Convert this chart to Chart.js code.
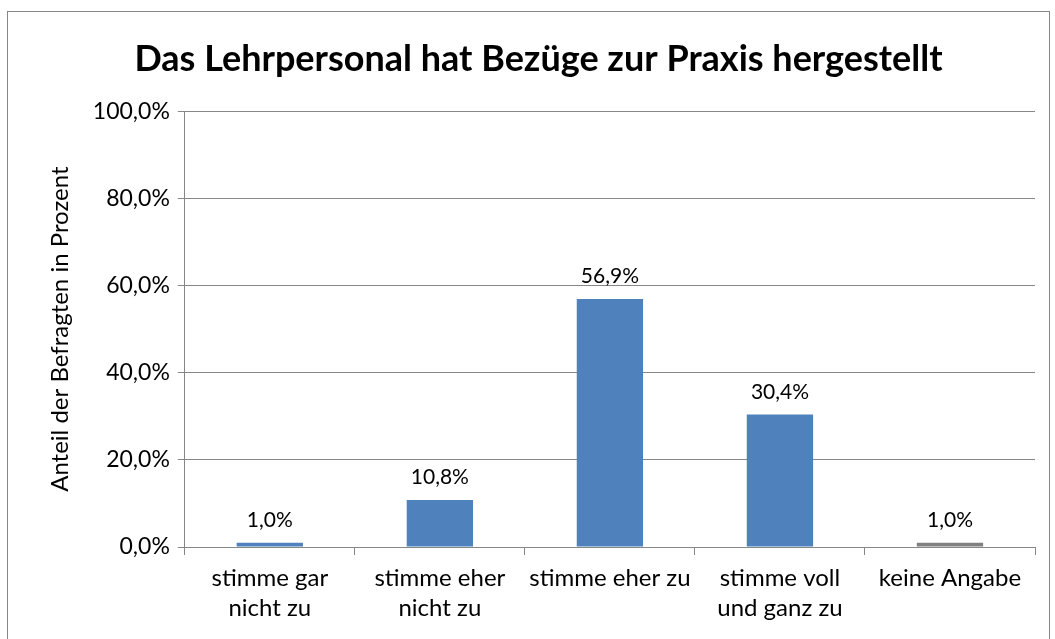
<!DOCTYPE html>
<html>
<head>
<meta charset="utf-8">
<script src="https://cdn.jsdelivr.net/npm/chart.js@4/dist/chart.umd.min.js"></script>
<style>
  body { margin: 0; background: #fff; }
  #box { position: absolute; left: 7px; top: 11px; width: 1041px; height: 640px; border: 1px solid #878787; border-bottom: none; }
  #wrap { position: absolute; left: 0; top: 0; width: 1055px; height: 639px; }
</style>
</head>
<body>
<div id="box"></div>
<div id="wrap"><canvas id="chart"></canvas></div>
<script>
const categories = [
  ['stimme gar', 'nicht zu'],
  ['stimme eher', 'nicht zu'],
  'stimme eher zu',
  ['stimme voll', 'und ganz zu'],
  'keine Angabe',
]
const shares = [1.0, 10.8, 56.9, 30.4, 1.0]
const barColors = ['#4F81BD', '#4F81BD', '#4F81BD', '#4F81BD', '#808080']
const yTicks = [0, 20, 40, 60, 80, 100]

const fmt = (v) => v.toFixed(1).replace('.', ',') + '%'

// draws the value above every bar
const valueLabels = {
  id: 'valueLabels',
  afterDatasetsDraw(chart) {
    const ctx = chart.ctx
    const meta = chart.getDatasetMeta(0)
    ctx.save()
    ctx.font = '21px Lato'
    ctx.fillStyle = '#000'
    ctx.textAlign = 'center'
    ctx.textBaseline = 'bottom'
    meta.data.forEach((bar, i) => {
      ctx.fillText(fmt(shares[i]), bar.x, bar.y - 12)
    })
    ctx.restore()
  },
}

new Chart(document.querySelector('#chart'), {
  type: 'bar',
  data: {
    labels: categories,
    datasets: [
      {
        data: shares,
        backgroundColor: barColors,
        borderWidth: 0,
        barPercentage: 0.39,
        categoryPercentage: 1,
      },
    ],
  },
  plugins: [valueLabels],
  options: {
    responsive: true,
    maintainAspectRatio: false,
    animation: false,
    layout: { padding: { left: 42, right: 20, top: 38, bottom: 8 } },
    plugins: {
      legend: { display: false },
      tooltip: { enabled: false },
      title: {
        display: true,
        text: 'Das Lehrpersonal hat Bezüge zur Praxis hergestellt',
        color: '#000',
        font: { family: 'Lato', size: 36, weight: 'bold' },
        padding: { top: 0, bottom: 30 },
      },
    },
    scales: {
      y: {
        min: 0,
        max: 100,
        afterBuildTicks: (axis) => {
          axis.ticks = yTicks.map((v) => ({ value: v }))
        },
        ticks: {
          color: '#000',
          font: { family: 'Lato', size: 23 },
          padding: 8,
          callback: (v) => fmt(v),
        },
        grid: { color: '#878787', tickLength: 7, lineWidth: 1 },
        border: { color: '#878787' },
        title: {
          display: true,
          text: 'Anteil der Befragten in Prozent',
          color: '#000',
          font: { family: 'Lato', size: 24 },
          padding: { bottom: 10 },
        },
      },
      x: {
        ticks: {
          color: '#000',
          font: { family: 'Lato', size: 24, lineHeight: 1.25 },
          maxRotation: 0,
          padding: 8,
        },
        grid: { offset: true, drawOnChartArea: false, tickLength: 8, color: '#878787' },
        border: { color: '#878787' },
      },
    },
  },
})
</script>
</body>
</html>
